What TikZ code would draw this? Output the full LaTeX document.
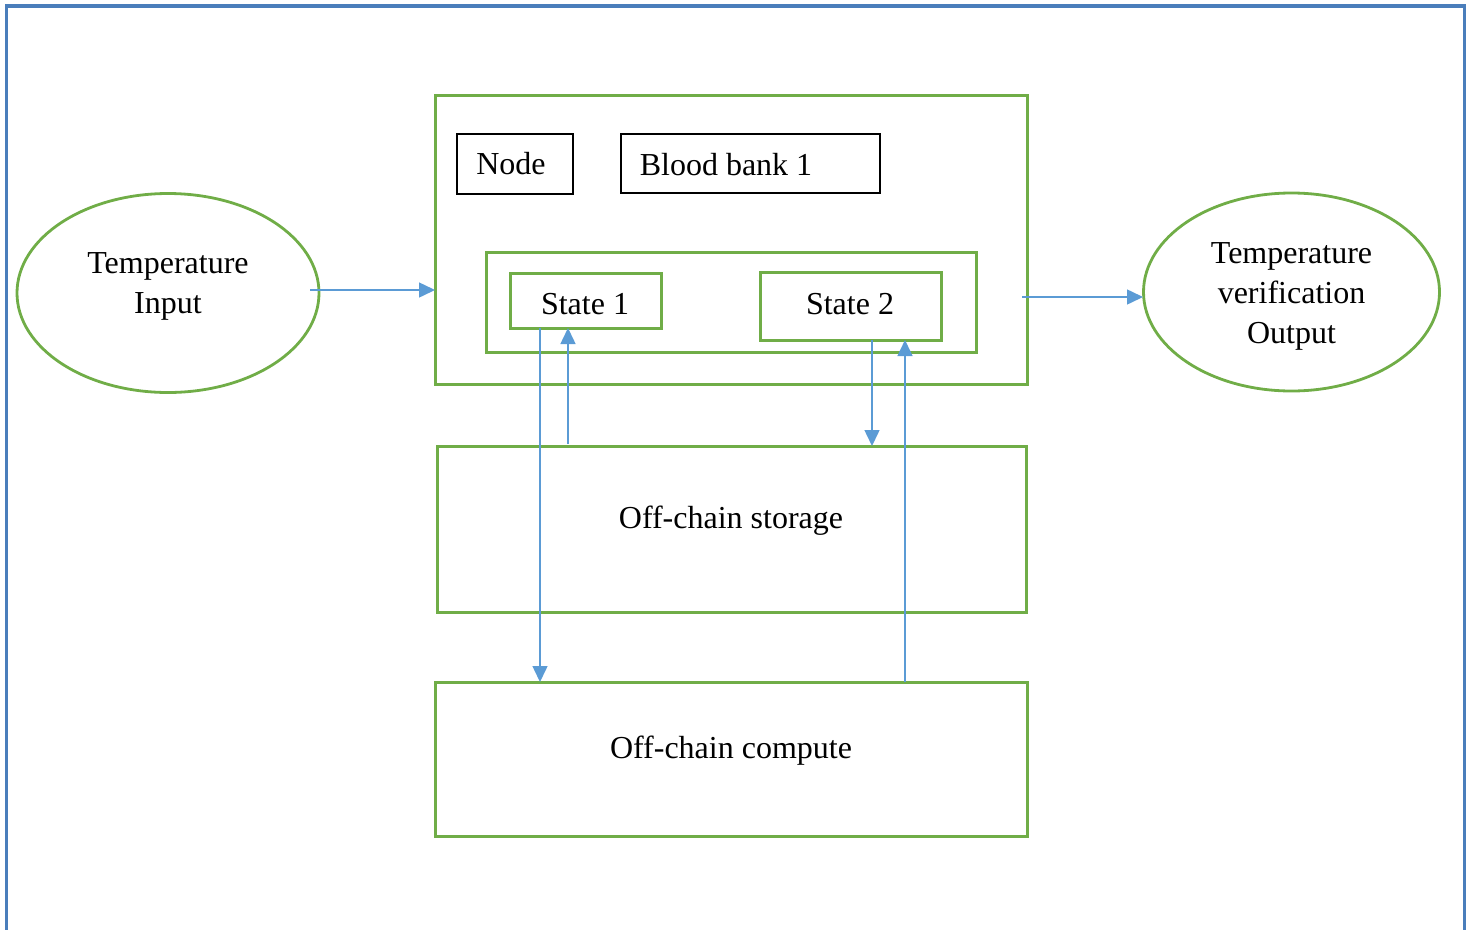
\documentclass[tikz,border=0pt]{standalone}
\usepackage{fontspec}
\setmainfont{Liberation Serif}
\usetikzlibrary{arrows.meta}
\definecolor{grn}{HTML}{70AD47}
\definecolor{blu}{HTML}{5B9BD5}
\definecolor{frame}{HTML}{4A7EBB}
\begin{document}
\begin{tikzpicture}[x=1pt,y=-1pt,
  txt/.style={font=\fontsize{32}{40}\selectfont, inner sep=0pt, align=center},
  gbox/.style={draw=grn, line width=3pt, inner sep=0pt, outer sep=0pt, anchor=north west},
  kbox/.style={draw=black, line width=1.5pt, inner sep=0pt, outer sep=0pt, anchor=north west},
  arr/.style={draw=blu, line width=1.5pt, -{Triangle[length=16pt,width=15pt]}},
  ln/.style={draw=blu, line width=1.5pt}]
\useasboundingbox (0,0) rectangle (1472,929);
% frame
\draw[frame, line width=3.5pt] (6.5,935) -- (6.5,6) -- (1464.5,6) -- (1464.5,935);
% ellipses
\draw[grn, line width=2.8pt] (168,293) ellipse [x radius=151, y radius=99.5];
\draw[grn, line width=2.8pt] (1291.5,292) ellipse [x radius=148, y radius=99];
\coordinate (inL) at (319,290);
\coordinate (outR) at (1143,297);
\node[txt] (tin) at (168,286) {Temperature\\Input};
\node[txt] (tout) at (1291.5,296) {Temperature\\verification\\Output};
% boxes
\node[gbox, minimum width=592, minimum height=289] (outer) at (435,95) {};
\node[kbox, minimum width=116, minimum height=60] (nodebox) at (457,134) {};
\node[txt] (nodet) at (511,164) {Node};
\node[kbox, minimum width=259, minimum height=59] (bb) at (621,134) {};
\node[txt] (bbt) at (726,165) {Blood bank 1};
\node[gbox, minimum width=490, minimum height=100] (inner) at (486,252) {};
\node[gbox, minimum width=151, minimum height=55] (s1) at (510,273) {};
\node[txt] (s1t) at (585,304) {State 1};
\node[gbox, minimum width=181, minimum height=68] (s2) at (760,272) {};
\node[txt] (s2t) at (850,304) {State 2};
\node[gbox, minimum width=589, minimum height=166] (store) at (437,446) {};
\node[txt] (storet) at (731,521) {Off-chain storage};
\node[gbox, minimum width=592, minimum height=154] (comp) at (435,682) {};
\node[txt] (compt) at (731,751) {Off-chain compute};
% connectors
\draw[arr] ([xshift=-9pt]inL) -- (outer.west |- inL);
\draw[arr] ([xshift=-5pt]outer.east |- outR) -- (outR);
\draw[arr] (s1.south -| 540,0) -- (comp.north -| 540,0);
\draw[arr] ([yshift=2pt]store.north -| 568,0) -- (s1.south -| 568,0);
\draw[arr] (s2.south -| 872,0) -- (store.north -| 872,0);
\draw[arr] (comp.north -| 905,0) -- (s2.south -| 905,0);
\end{tikzpicture}
\end{document}
